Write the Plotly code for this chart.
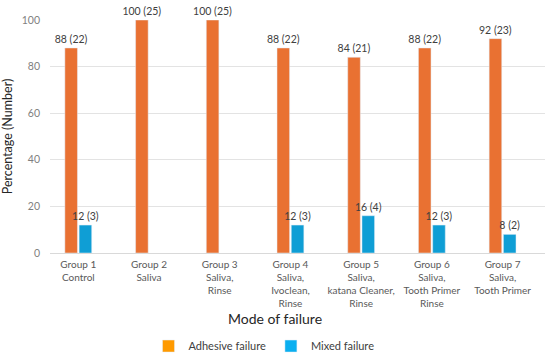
import plotly.graph_objects as go

categories = [
    "Group 1<br>Control",
    "Group 2<br>Saliva",
    "Group 3<br>Saliva,<br>Rinse",
    "Group 4<br>Saliva,<br>Ivoclean,<br>Rinse",
    "Group 5<br>Saliva,<br>katana Cleaner,<br>Rinse",
    "Group 6<br>Saliva,<br>Tooth Primer<br>Rinse",
    "Group 7<br>Saliva,<br>Tooth Primer",
]
adhesive_pct = [88, 100, 100, 88, 84, 88, 92]
adhesive_n = [22, 25, 25, 22, 21, 22, 23]
mixed_pct = [12, None, None, 12, 16, 12, 8]
mixed_n = [3, None, None, 3, 4, 3, 2]
y_ticks = [0, 20, 40, 60, 80, 100]

FONT = "Lato, 'Open Sans', sans-serif"
BAR_ORANGE = "#E97132"
BAR_BLUE = "#0F9ED5"
LEG_ORANGE = "#FF9A00"
LEG_BLUE = "#0AAFF0"

def lab(p, n):
    return [f"{a} ({b})" if a is not None else "" for a, b in zip(p, n)]

xi = list(range(len(categories)))

fig = go.Figure()
fig.add_trace(go.Bar(
    x=xi, y=adhesive_pct, name="Adhesive failure", marker_color=BAR_ORANGE,
    text=lab(adhesive_pct, adhesive_n), textposition="outside", cliponaxis=False,
    constraintext="none", textfont=dict(size=10.5, color="#404040"), showlegend=False,
))
fig.add_trace(go.Bar(
    x=xi, y=mixed_pct, name="Mixed failure", marker_color=BAR_BLUE,
    text=lab(mixed_pct, mixed_n), textposition="outside", cliponaxis=False,
    constraintext="none", textfont=dict(size=10.5, color="#404040"), showlegend=False,
))
# legend entries (swatch colours as in the reference legend)
fig.add_trace(go.Bar(x=[None], y=[None], name="Adhesive failure", marker_color=LEG_ORANGE,
                     xaxis="x2", yaxis="y2"))
fig.add_trace(go.Bar(x=[None], y=[None], name="Mixed failure", marker_color=LEG_BLUE,
                     xaxis="x2", yaxis="y2"))

fig.update_layout(
    width=550, height=356,
    margin=dict(l=50, r=5, t=20, b=103, autoexpand=False),
    paper_bgcolor="white", plot_bgcolor="white",
    font=dict(family=FONT, color="#404040"),
    barmode="group", bargap=0.597, bargroupgap=0.116,
    uniformtext=dict(mode=False),
    xaxis=dict(
        tickmode="array", tickvals=xi, ticktext=categories,
        range=[-0.4, 6.6], showgrid=False, showline=False, zeroline=False,
        tickfont=dict(size=10, color="#595959"), ticks="", ticklabelstandoff=4,
        automargin=False,
    ),
    yaxis=dict(
        range=[0, 100], tickvals=y_ticks, showgrid=True, gridcolor="#E3E3E3",
        gridwidth=1, zeroline=True, zerolinecolor="#D9D9D9", zerolinewidth=1,
        showline=False, tickfont=dict(size=10.5, color="#7F7F7F"), ticks="",
        ticklabelstandoff=9, automargin=False,
        title=dict(text="Percentage (Number)", font=dict(size=12.5, color="#262626"), standoff=7),
    ),
    xaxis2=dict(overlaying="x", visible=False),
    yaxis2=dict(overlaying="y", visible=False),
    legend=dict(
        orientation="h", xref="container", yref="container",
        x=0.48, xanchor="center", y=0.028, yanchor="middle",
        font=dict(size=11, color="#404040"), traceorder="normal",
    ),
    annotations=[dict(
        text="Mode of failure", xref="paper", yref="paper", x=0.4545, y=-0.279,
        xanchor="center", yanchor="middle", showarrow=False,
        font=dict(size=14, color="#262626"),
    )],
)

fig.write_html(
    "out.html",
    config={"displayModeBar": False},
    post_script="document.body.style.margin='0';document.body.style.overflow='hidden';",
)
